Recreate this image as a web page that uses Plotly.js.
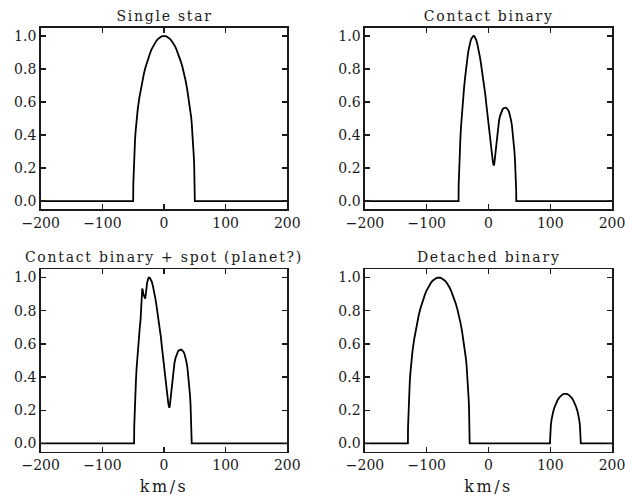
<!DOCTYPE html>
<html>
<head>
<meta charset="utf-8">
<script src="https://cdn.plot.ly/plotly-3.0.1.min.js"></script>
<style>
html,body{margin:0;padding:0;background:#fff;}
#chart{width:625px;height:496px;}
#chart .annotation-text{letter-spacing:1.75px;}
#chart text.x3title, #chart text.x4title{letter-spacing:2.5px;}
</style>
</head>
<body>
<div id="chart"></div>
<script>
// ---- Data (velocity in km/s, normalised profile) ----
const panelTitles = ["Single star", "Contact binary", "Contact binary + spot (planet?)", "Detached binary"];
const xTickVals = [-200, -100, 0, 100, 200];
const yTickVals = [0.0, 0.2, 0.4, 0.6, 0.8, 1.0];
const xAxisLabel = "km/s";

const singleX = [-200, -50, -49.8, -49.5, -49, -48.5, -48, -47, -46, -45, -44, -42.5, -40, -37.5, -35, -32.5, -30,
                 -27.5, -25, -22.5, -20, -17.5, -15, -12.5, -10, -7.5, -5, -2.5, 0,
                 2.5, 5, 7.5, 10, 12.5, 15, 17.5, 20, 22.5, 25, 27.5, 30, 32.5, 35, 37.5, 40, 42.5, 44, 45, 46,
                 47, 48, 48.5, 49, 49.5, 49.8, 50, 200];
const singleY = [0, 0, 0.1, 0.15, 0.21, 0.26, 0.3, 0.37, 0.425, 0.47, 0.51, 0.56, 0.625, 0.68, 0.73, 0.773, 0.81,
                 0.843, 0.872, 0.897, 0.92, 0.94, 0.957, 0.97, 0.981, 0.99, 0.995, 0.999, 1.0,
                 0.999, 0.995, 0.99, 0.981, 0.97, 0.957, 0.94, 0.92, 0.897, 0.872, 0.843, 0.81, 0.773, 0.73, 0.68, 0.625, 0.56, 0.51, 0.47, 0.425,
                 0.37, 0.3, 0.26, 0.21, 0.15, 0.1, 0, 0];

const contactX = [-200, -48.5, -48.3, -48, -47.5, -47, -46.5, -45.5, -44.5, -43.5, -42.5, -41, -39.5, -38, -36.5,
                  -35, -33.5, -32, -30.5, -29, -27.5, -26, -24.5, -23, -21.5, -20, -18.5, -17, -15.5, -14, -12.5,
                  -11, -9.5, -8, -6.5, -5, -3.5, -2, -0.5, 1, 2.5, 4, 5.5, 7, 8, 8.7, 9.5, 10.5, 11.5, 12.5, 13.5,
                  14.5, 15.5, 17, 18.5, 20, 21.5, 23, 24.5, 26, 27.5, 29, 30.5, 32, 33.5, 35, 36.5, 38, 39.5, 41,
                  42, 43, 43.8, 44.4, 44.8, 45, 200];
const contactY = [0, 0, 0.1, 0.15, 0.2, 0.25, 0.3, 0.38, 0.45, 0.51, 0.56, 0.63, 0.69, 0.745, 0.8,
                  0.845, 0.885, 0.92, 0.95, 0.97, 0.985, 0.995, 1.0, 0.999, 0.99, 0.977, 0.958, 0.935, 0.907, 0.875, 0.84,
                  0.805, 0.765, 0.725, 0.685, 0.64, 0.585, 0.53, 0.475, 0.42, 0.37, 0.32, 0.275, 0.24, 0.222, 0.215, 0.23, 0.265, 0.305, 0.345, 0.385,
                  0.42, 0.45, 0.485, 0.513, 0.533, 0.548, 0.557, 0.562, 0.565, 0.566, 0.564, 0.558, 0.55, 0.536, 0.517, 0.49, 0.455, 0.41, 0.35,
                  0.3, 0.24, 0.18, 0.12, 0.07, 0, 0];

const spotX = [-200, -48.5, -48.3, -48, -47.5, -47, -46.5, -45.5, -44.5, -43.5, -42.5, -41, -39.5, -38, -37, -36,
               -35.3, -34.5, -33.5, -32.5, -31.5, -30.5, -29.5, -28.5, -27.5, -26, -24.5, -23, -21.5, -20, -18.5,
               -17, -15.5, -14, -12.5, -11, -9.5, -8, -6.5, -5, -3.5, -2, -0.5, 1, 2.5, 4, 5.5, 7, 8, 8.7, 9.5,
               10.5, 11.5, 12.5, 13.5, 14.5, 15.5, 17, 18.5, 20, 21.5, 23, 24.5, 26, 27.5, 29, 30.5, 32, 33.5,
               35, 36.5, 38, 39.5, 41, 42, 43, 43.8, 44.4, 44.8, 45, 200];
const spotY = [0, 0, 0.1, 0.15, 0.2, 0.25, 0.3, 0.38, 0.45, 0.51, 0.56, 0.63, 0.69, 0.745, 0.8, 0.87,
               0.934, 0.925, 0.9, 0.885, 0.877, 0.873, 0.9, 0.94, 0.965, 0.99, 1.0, 0.999, 0.99, 0.977, 0.958,
               0.935, 0.907, 0.875, 0.84, 0.805, 0.765, 0.725, 0.685, 0.64, 0.585, 0.53, 0.475, 0.42, 0.37, 0.32, 0.275, 0.24, 0.222, 0.215, 0.23,
               0.265, 0.305, 0.345, 0.385, 0.42, 0.45, 0.485, 0.513, 0.533, 0.548, 0.557, 0.562, 0.565, 0.566, 0.564, 0.558, 0.55, 0.536,
               0.517, 0.49, 0.455, 0.41, 0.35, 0.3, 0.24, 0.18, 0.12, 0.07, 0, 0];

const detachedX = [-200, -130.5, -130.3, -130, -129.5, -129, -128.5, -127.5, -126.5, -125.5, -124.5, -123, -120.5,
                   -118, -115.5, -113, -110.5, -108, -105.5, -103, -100.5, -98, -95.5, -93, -90.5, -88, -85.5, -83,
                   -80.5, -78, -75.5, -73, -70.5, -68, -65.5, -63, -60.5, -58, -55.5, -53, -50.5, -48, -45.5, -43,
                   -40.5, -38, -36.5, -35.5, -34.5, -33.5, -32.5, -32, -31.5, -31, -30.7, -30.5,
                   99.5, 99.6, 99.75, 100, 100.5, 101, 102, 103.25, 104.5, 107, 109.5, 112, 114.5, 117, 119.5, 122,
                   124.5, 127, 129.5, 132, 134.5, 137, 139.5, 142, 144.5, 145.75, 147, 148, 148.5, 149, 149.25,
                   149.4, 149.5, 200];
const detachedY = [0, 0, 0.1, 0.15, 0.21, 0.26, 0.3, 0.37, 0.425, 0.47, 0.51, 0.56, 0.625,
                   0.68, 0.73, 0.773, 0.81, 0.843, 0.872, 0.897, 0.92, 0.94, 0.957, 0.97, 0.981, 0.99, 0.995, 0.999,
                   1.0, 0.999, 0.995, 0.99, 0.981, 0.97, 0.957, 0.94, 0.92, 0.897, 0.872, 0.843, 0.81, 0.773, 0.73, 0.68,
                   0.625, 0.56, 0.51, 0.47, 0.425, 0.37, 0.3, 0.26, 0.21, 0.15, 0.1, 0,
                   0, 0.03, 0.045, 0.063, 0.09, 0.111, 0.141, 0.168, 0.188, 0.219, 0.243, 0.262, 0.276, 0.287, 0.294, 0.2985,
                   0.3, 0.2985, 0.294, 0.287, 0.276, 0.262, 0.243, 0.219, 0.188, 0.168, 0.141, 0.111, 0.09, 0.063, 0.045,
                   0.03, 0, 0];

// ---- Layout ----
const W = 625, H = 496;
const FONT = "'DejaVu Serif', 'Liberation Serif', serif";
const INK = "#1a1a1a";
const panels = [
  {x: singleX, y: singleY, px: [40.7, 287.3], py: [27.7, 209.3]},
  {x: contactX, y: contactY, px: [365, 612], py: [27.7, 209.3]},
  {x: spotX, y: spotY, px: [40.7, 287.3], py: [269.3, 451.7]},
  {x: detachedX, y: detachedY, px: [365, 612], py: [269.3, 451.7]}
];
const titleY = [16, 16, 256.5, 256.5];

const data = [];
const layout = {
  width: W, height: H,
  margin: {l: 0, r: 0, t: 0, b: 0},
  paper_bgcolor: "#fff", plot_bgcolor: "#fff",
  showlegend: false,
  font: {family: FONT, size: 14, color: INK},
  annotations: []
};

panels.forEach((p, i) => {
  const n = i === 0 ? "" : String(i + 1);
  data.push({
    x: p.x, y: p.y, type: "scatter", mode: "lines",
    xaxis: "x" + n, yaxis: "y" + n,
    line: {color: "#000", width: 1.8},
    hoverinfo: "skip"
  });
  const common = {
    showline: true, linecolor: INK, linewidth: 1.6, mirror: "ticks",
    ticks: "inside", ticklen: 5, tickwidth: 1.2, tickcolor: INK,
    showgrid: false, zeroline: false, fixedrange: true,
    ticklabeloverflow: "allow",
    tickfont: {family: FONT, size: 14, color: INK}
  };
  layout["xaxis" + n] = Object.assign({}, common, {
    domain: [p.px[0] / W, p.px[1] / W],
    range: [-200, 200], tickvals: xTickVals,
    anchor: "y" + n,
    title: i >= 2 ? {text: xAxisLabel, font: {family: FONT, size: 16, color: INK}, standoff: 10} : {text: ""}
  });
  layout["yaxis" + n] = Object.assign({}, common, {
    domain: [1 - p.py[1] / H, 1 - p.py[0] / H],
    range: [-0.05, 1.05], tickvals: yTickVals, tickformat: ".1f", ticksuffix: "\u2009",
    anchor: "x" + n
  });
  layout.annotations.push({
    text: panelTitles[i], showarrow: false,
    xref: "paper", yref: "paper",
    x: (p.px[0] + p.px[1]) / 2 / W, y: 1 - titleY[i] / H,
    xanchor: "center", yanchor: "middle",
    font: {family: FONT, size: 14, color: INK}
  });
});

Plotly.newPlot("chart", data, layout, {staticPlot: true, displayModeBar: false});
</script>
</body>
</html>
